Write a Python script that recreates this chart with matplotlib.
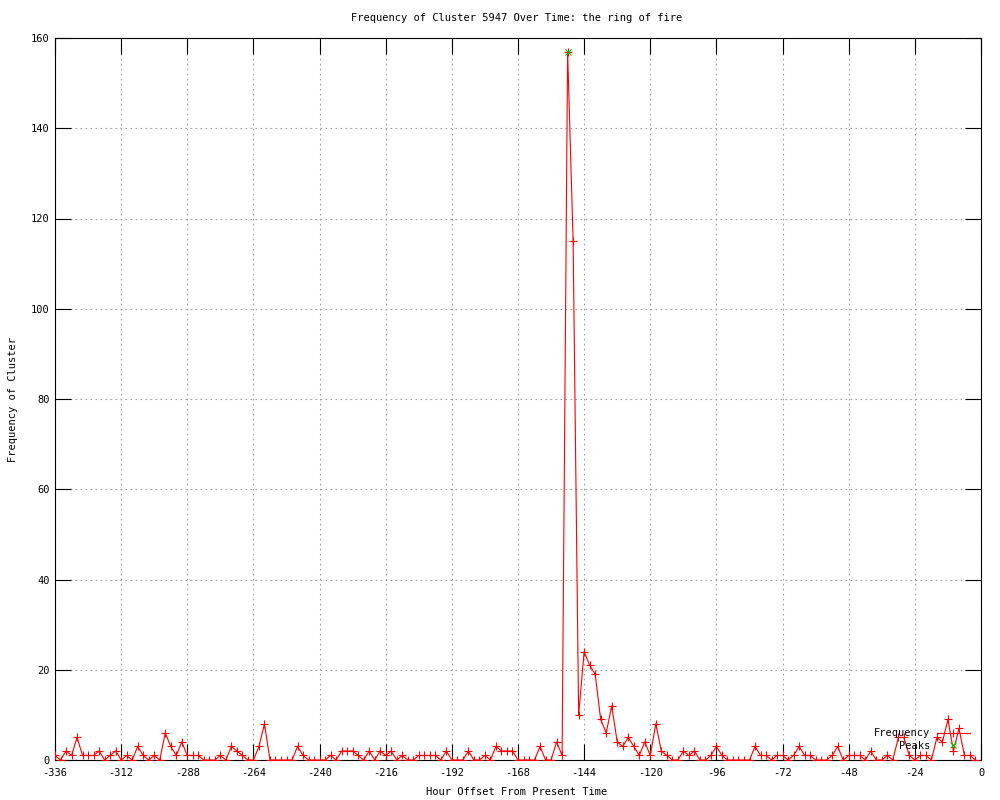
import matplotlib
matplotlib.use("Agg")
import matplotlib.pyplot as plt
from matplotlib.lines import Line2D

plt.rcParams['axes.unicode_minus'] = False
plt.rcParams['font.family'] = ['DejaVu Sans Mono']

# ---- data ----
hours = list(range(-336, 0, 2))
frequency = [
    1, 0, 2, 1, 5, 1, 1, 1, 2, 0, 1, 2, 0, 1, 0, 3, 1, 0, 1, 0,
    6, 3, 1, 4, 1, 1, 1, 0, 0, 0, 1, 0, 3, 2, 1, 0, 0, 3, 8, 0,
    0, 0, 0, 0, 3, 1, 0, 0, 0, 0, 1, 0, 2, 2, 2, 1, 0, 2, 0, 2,
    1, 2, 0, 1, 0, 0, 1, 1, 1, 1, 0, 2, 0, 0, 0, 2, 0, 0, 1, 0,
    3, 2, 2, 2, 0, 0, 0, 0, 3, 0, 0, 4, 1, 157, 115, 10, 24, 21, 19, 9,
    6, 12, 4, 3, 5, 3, 1, 4, 1, 8, 2, 1, 0, 0, 2, 1, 2, 0, 0, 1,
    3, 1, 0, 0, 0, 0, 0, 3, 1, 1, 0, 1, 1, 0, 1, 3, 1, 1, 0, 0,
    0, 1, 3, 0, 1, 1, 1, 0, 2, 0, 0, 1, 0, 5, 5, 1, 0, 1, 1, 0,
    5, 4, 9, 2, 7, 1, 1, 0,
]
peak_hours = [-150]
peak_values = [157]
x_ticks = list(range(-336, 1, 24))
y_ticks = list(range(0, 161, 20))

title = "Frequency of Cluster 5947 Over Time: the ring of fire"
xlabel = "Hour Offset From Present Time"
ylabel = "Frequency of Cluster"

FS = 7.5
fig = plt.figure(figsize=(10, 8), dpi=100)
ax = fig.add_axes([0.055, 0.05, 0.926, 0.9025])

ax.plot(hours, frequency, color='#ff0000', lw=0.8, marker='+', ms=6,
        mew=0.8, zorder=3)
ax.plot(peak_hours, peak_values, linestyle='none', color='#00c000',
        marker='x', ms=5, mew=0.8, zorder=4)

ax.set_xlim(-336, 0)
ax.set_ylim(0, 160)
ax.set_xticks(x_ticks)
ax.set_yticks(y_ticks)
ax.tick_params(direction='in', length=11.5, width=0.8, top=True, right=True,
               labelsize=FS, colors='black')
ax.tick_params(axis='x', pad=6)
ax.tick_params(axis='y', pad=4)
ax.grid(True, linestyle=(0, (1.5, 3)), color='#a0a0a0', lw=0.8)
ax.set_axisbelow(True)
for s in ax.spines.values():
    s.set_linewidth(0.8)

fig.text(0.517, 1 - 18 / 800, title, ha='center', va='center', fontsize=FS)
fig.text(0.517, 1 - 792 / 800, xlabel, ha='center', va='center', fontsize=FS)
fig.text(0.013, 1 - 399 / 800, ylabel, ha='center', va='center',
         rotation=90, fontsize=FS)

handles = [
    Line2D([], [], color='#ff0000', lw=0.8, marker='+', ms=6, mew=0.8),
    Line2D([], [], color='#00c000', linestyle='none', marker='x', ms=5, mew=0.8),
]
ax.legend(handles, ['Frequency', 'Peaks'], loc='center right',
          bbox_to_anchor=(0.970, 1 - 739.5 / 800),
          bbox_transform=fig.transFigure, frameon=False, markerfirst=False,
          fontsize=FS, handlelength=3.2, handletextpad=0.6, labelspacing=0.2,
          borderpad=0, borderaxespad=0, numpoints=1)

fig.savefig("out.png", dpi=100)
